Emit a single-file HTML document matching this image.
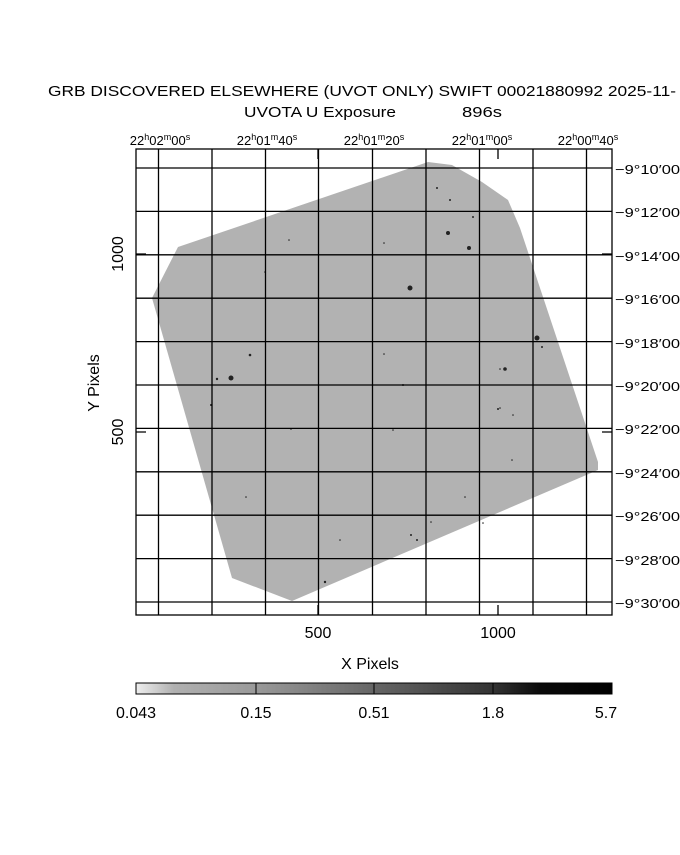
<!DOCTYPE html>
<html><head><style>
body{margin:0;background:#fff;}
svg text{font-family:"Liberation Sans",sans-serif;fill:#000;}
</style></head><body>
<svg width="680" height="850" viewBox="0 0 680 850" xmlns="http://www.w3.org/2000/svg">
<defs>
<clipPath id="cp"><polygon points="152,298 178,247 428,162 452,165 482,182 508,200 520,228 598,462 598,470 292,601 232,578"/></clipPath>
<linearGradient id="cb" x1="0" x2="1">
<stop offset="0" stop-color="#eeeeee"/><stop offset="0.04" stop-color="#d0d0d0"/>
<stop offset="0.08" stop-color="#b0b0b0"/><stop offset="0.25" stop-color="#9a9a9a"/>
<stop offset="0.5" stop-color="#666"/><stop offset="0.75" stop-color="#333"/>
<stop offset="0.85" stop-color="#0a0a0a"/><stop offset="1" stop-color="#000"/>
</linearGradient>
</defs>
<text x="48" y="96" font-size="15" textLength="628" lengthAdjust="spacingAndGlyphs">GRB DISCOVERED ELSEWHERE (UVOT ONLY) SWIFT 00021880992 2025-11-</text>
<text x="244" y="117" font-size="15" textLength="152" lengthAdjust="spacingAndGlyphs">UVOTA U Exposure</text>
<text x="462" y="117" font-size="15" textLength="40" lengthAdjust="spacingAndGlyphs">896s</text>
<g clip-path="url(#cp)">
<rect x="140" y="150" width="470" height="460" fill="#b2b2b2"/>
</g>
<g fill="#222">
<circle cx="410" cy="288" r="2.5"/><circle cx="231" cy="378" r="2.5"/><circle cx="537" cy="338" r="2.5"/>
<circle cx="448" cy="233" r="2"/><circle cx="469" cy="248" r="2"/><circle cx="505" cy="369" r="1.8"/>
<circle cx="250" cy="355" r="1.3"/><circle cx="217" cy="379" r="1.2"/><circle cx="211" cy="405" r="1"/>
<circle cx="403" cy="385" r="1"/><circle cx="325" cy="582" r="1.2"/><circle cx="437" cy="188" r="1"/>
<circle cx="450" cy="200" r="1"/><circle cx="411" cy="535" r="1"/><circle cx="417" cy="540" r="1"/>
<circle cx="384" cy="354" r="0.8"/><circle cx="291" cy="429" r="0.8"/><circle cx="393" cy="430" r="0.8"/>
<circle cx="246" cy="497" r="0.8"/><circle cx="431" cy="522" r="0.8"/><circle cx="465" cy="497" r="0.8"/>
<circle cx="483" cy="523" r="0.8"/><circle cx="542" cy="347" r="1"/><circle cx="500" cy="408" r="0.8"/>
<circle cx="265" cy="272" r="0.8"/><circle cx="289" cy="240" r="0.8"/><circle cx="384" cy="243" r="0.8"/>
<circle cx="512" cy="460" r="0.8"/><circle cx="340" cy="540" r="0.8"/><circle cx="473" cy="217" r="1"/>
<circle cx="498" cy="409" r="1"/><circle cx="513" cy="415" r="0.8"/><circle cx="500" cy="369" r="0.8"/>
</g>
<g stroke="#000" stroke-width="1.3" fill="none">
<rect x="136" y="149" width="476" height="466"/>
<path d="M158.5 149V615M212 149V615M265.5 149V615M318.5 149V615M372.5 149V615M426 149V615M479.5 149V615M533 149V615M586.5 149V615"/>
<path d="M136 168H612M136 211.4H612M136 254.8H612M136 298.2H612M136 341.6H612M136 385H612M136 428.4H612M136 471.8H612M136 515.2H612M136 558.6H612M136 602H612"/>
<path d="M318 149v10M498 149v10M318 615v-10M498 615v-10M136 254h10M612 254h-10M136 432h10M612 432h-10"/>
</g>
<g font-size="13" text-anchor="middle">
<text x="160" y="145">22<tspan dy="-5" font-size="9">h</tspan><tspan dy="5">02</tspan><tspan dy="-5" font-size="9">m</tspan><tspan dy="5">00</tspan><tspan dy="-5" font-size="9">s</tspan></text>
<text x="267" y="145">22<tspan dy="-5" font-size="9">h</tspan><tspan dy="5">01</tspan><tspan dy="-5" font-size="9">m</tspan><tspan dy="5">40</tspan><tspan dy="-5" font-size="9">s</tspan></text>
<text x="374" y="145">22<tspan dy="-5" font-size="9">h</tspan><tspan dy="5">01</tspan><tspan dy="-5" font-size="9">m</tspan><tspan dy="5">20</tspan><tspan dy="-5" font-size="9">s</tspan></text>
<text x="482" y="145">22<tspan dy="-5" font-size="9">h</tspan><tspan dy="5">01</tspan><tspan dy="-5" font-size="9">m</tspan><tspan dy="5">00</tspan><tspan dy="-5" font-size="9">s</tspan></text>
<text x="588" y="145">22<tspan dy="-5" font-size="9">h</tspan><tspan dy="5">00</tspan><tspan dy="-5" font-size="9">m</tspan><tspan dy="5">40</tspan><tspan dy="-5" font-size="9">s</tspan></text>
</g>
<g font-size="13">
<text x="615" y="174" textLength="65" lengthAdjust="spacingAndGlyphs">−9°10′00</text><text x="615" y="217" textLength="65" lengthAdjust="spacingAndGlyphs">−9°12′00</text>
<text x="615" y="261" textLength="65" lengthAdjust="spacingAndGlyphs">−9°14′00</text><text x="615" y="304" textLength="65" lengthAdjust="spacingAndGlyphs">−9°16′00</text>
<text x="615" y="348" textLength="65" lengthAdjust="spacingAndGlyphs">−9°18′00</text><text x="615" y="391" textLength="65" lengthAdjust="spacingAndGlyphs">−9°20′00</text>
<text x="615" y="434" textLength="65" lengthAdjust="spacingAndGlyphs">−9°22′00</text><text x="615" y="478" textLength="65" lengthAdjust="spacingAndGlyphs">−9°24′00</text>
<text x="615" y="521" textLength="65" lengthAdjust="spacingAndGlyphs">−9°26′00</text><text x="615" y="565" textLength="65" lengthAdjust="spacingAndGlyphs">−9°28′00</text>
<text x="615" y="608" textLength="65" lengthAdjust="spacingAndGlyphs">−9°30′00</text>
</g>
<g font-size="16" text-anchor="middle">
<text x="318" y="638">500</text><text x="498" y="638">1000</text>
<text x="370" y="669">X Pixels</text>
<text transform="translate(123,254) rotate(-90)">1000</text>
<text transform="translate(123,432) rotate(-90)">500</text>
<text transform="translate(99,383) rotate(-90)">Y Pixels</text>
</g>
<rect x="136" y="683" width="476" height="11" fill="url(#cb)" stroke="#000" stroke-width="1"/>
<path d="M256 683v11M374 683v11M493 683v11" stroke="#000"/>
<g font-size="16" text-anchor="middle">
<text x="136" y="718">0.043</text><text x="256" y="718">0.15</text>
<text x="374" y="718">0.51</text><text x="493" y="718">1.8</text><text x="606" y="718">5.7</text>
</g>
</svg>
</body></html>
